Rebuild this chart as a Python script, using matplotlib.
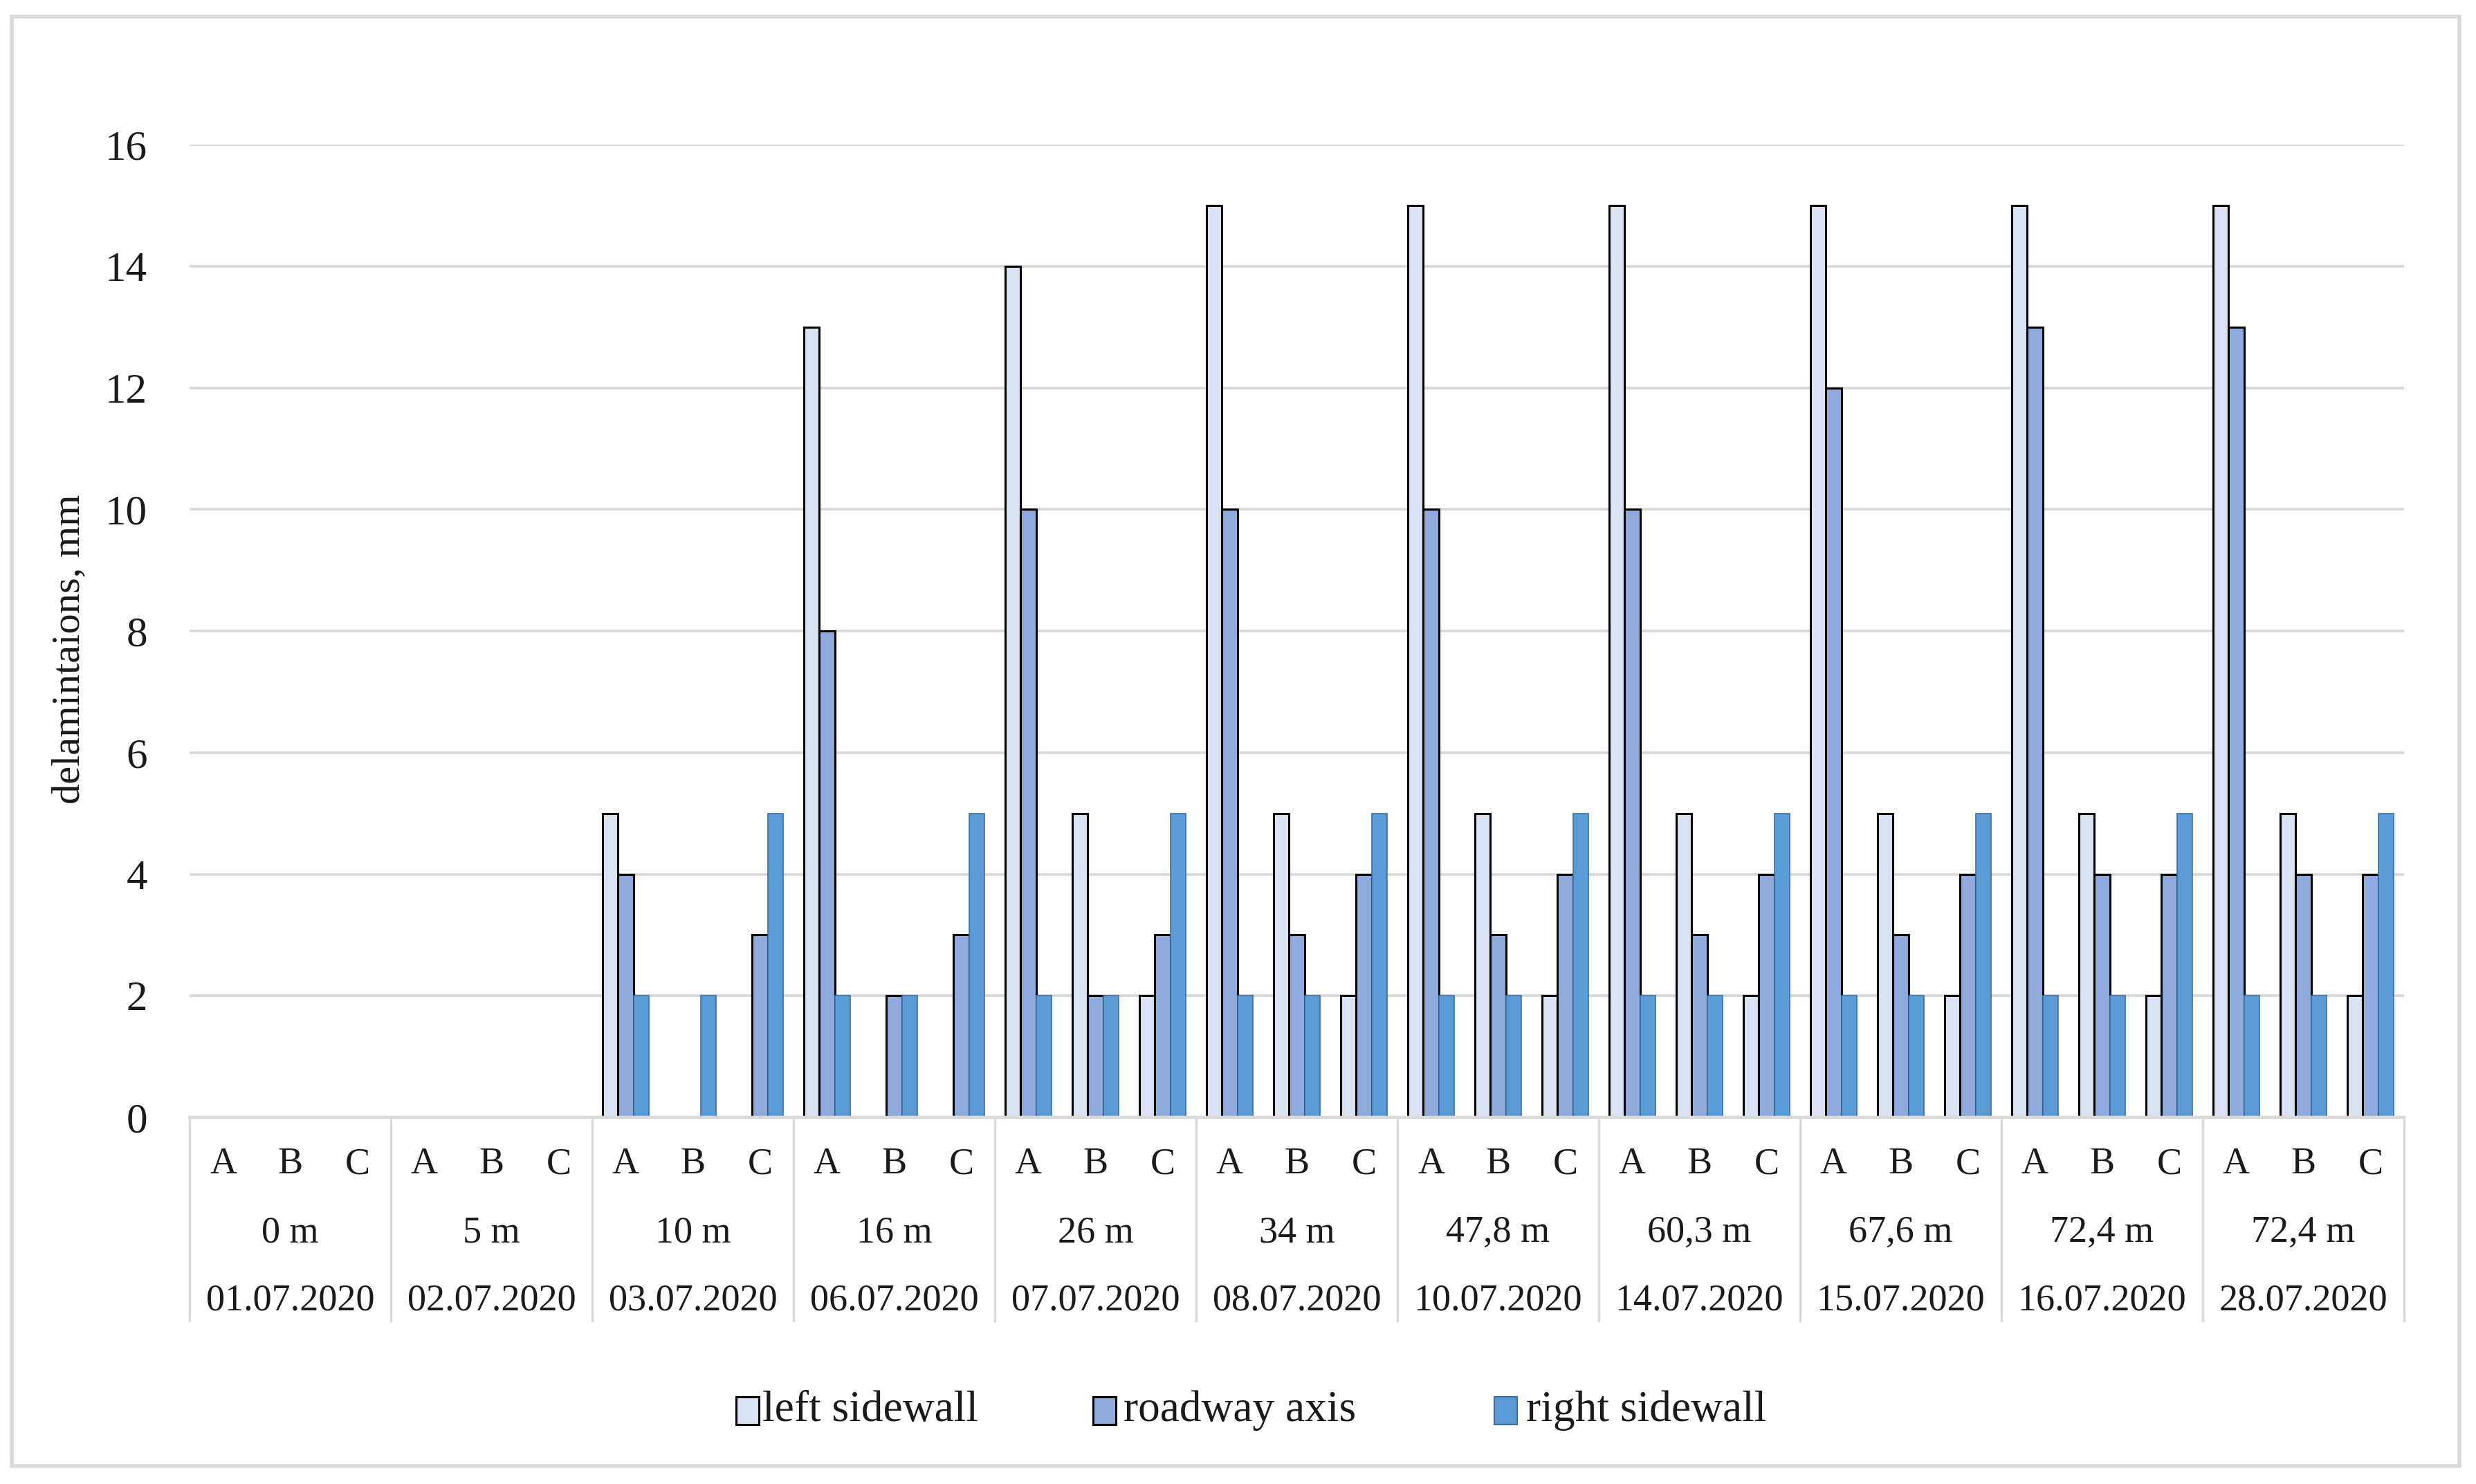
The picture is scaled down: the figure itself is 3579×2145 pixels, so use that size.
import matplotlib
matplotlib.use("Agg")
import matplotlib.pyplot as plt
from matplotlib.patches import Rectangle
import numpy as np

# ---- data ----
dates = ['01.07.2020', '02.07.2020', '03.07.2020', '06.07.2020', '07.07.2020', '08.07.2020',
         '10.07.2020', '14.07.2020', '15.07.2020', '16.07.2020', '28.07.2020']
distances = ['0 m', '5 m', '10 m', '16 m', '26 m', '34 m', '47,8 m', '60,3 m', '67,6 m', '72,4 m', '72,4 m']
points = ['A', 'B', 'C']
series_names = ['left sidewall', 'roadway axis', 'right sidewall']

left_sidewall = [0, 0, 0,  0, 0, 0,  5, 0, 0,  13, 0, 0,  14, 5, 2,  15, 5, 2,
                 15, 5, 2,  15, 5, 2,  15, 5, 2,  15, 5, 2,  15, 5, 2]
roadway_axis = [0, 0, 0,  0, 0, 0,  4, 0, 3,  8, 2, 3,  10, 2, 3,  10, 3, 4,
                10, 3, 4,  10, 3, 4,  12, 3, 4,  13, 4, 4,  13, 4, 4]
right_sidewall = [0, 0, 0,  0, 0, 0,  2, 2, 5,  2, 2, 5,  2, 2, 5,  2, 2, 5,
                  2, 2, 5,  2, 2, 5,  2, 2, 5,  2, 2, 5,  2, 2, 5]
y_ticks = [0, 2, 4, 6, 8, 10, 12, 14, 16]

# ---- style ----
plt.rcParams['font.family'] = ['Liberation Serif', 'DejaVu Serif']
colors = ['#DAE3F3', '#8FAADC', '#5B9BD5']
edgecolors = ['#000000', '#000000', '#3E6FA6']
edgewidths = [1.1, 1.1, 0.6]
grid_c = '#D9D9D9'
txt_c = '#1a1a1a'

W, H, DPI = 3580, 2145, 200
fig = plt.figure(figsize=(W / DPI, H / DPI), dpi=DPI)
fig.patch.set_facecolor('white')

ax_l, ax_r, ax_t, ax_b = 274, 3475, 209, 1615
ax = fig.add_axes([ax_l / W, 1 - ax_b / H, (ax_r - ax_l) / W, (ax_b - ax_t) / H])

n_groups = len(dates)
n_sub = len(points)
n_cat = n_groups * n_sub
x = np.arange(n_cat) + 0.5
bw = 0.227
series = [left_sidewall, roadway_axis, right_sidewall]
for i, vals in enumerate(series):
    vals = np.asarray(vals, dtype=float)
    lws = [edgewidths[i] if v > 0 else 0 for v in vals]
    ax.bar(x + (i - 1) * bw, vals, width=bw, color=colors[i],
           edgecolor=edgecolors[i], linewidth=lws, zorder=3)

ax.set_xlim(0, n_cat)
ax.set_ylim(0, 16)
ax.set_yticks(y_ticks)
ax.set_yticklabels([str(t) for t in y_ticks], fontsize=22, color=txt_c)
ax.tick_params(axis='y', length=0, pad=22)
ax.set_xticks([])
for s in ['top', 'right', 'left']:
    ax.spines[s].set_visible(False)
ax.spines['bottom'].set_color(grid_c)
ax.spines['bottom'].set_linewidth(1.6)
ax.spines['bottom'].set_zorder(4)
ax.yaxis.grid(True, color=grid_c, linewidth=1.4, zorder=0)
ax.set_axisbelow(True)

# multi-level category labels
axh = ax_b - ax_t
def yf(px):
    return (ax_b - px) / axh

trans = ax.get_xaxis_transform()
for k in range(n_cat):
    ax.text(x[k], yf(1683), points[k % n_sub], transform=trans, ha='center', va='center',
            fontsize=19.5, color=txt_c)
for g in range(n_groups):
    cx = g * n_sub + n_sub / 2
    ax.text(cx, yf(1782), distances[g], transform=trans, ha='center', va='center',
            fontsize=19.5, color=txt_c)
    ax.text(cx, yf(1880), dates[g], transform=trans, ha='center', va='center',
            fontsize=19.5, color=txt_c)
for g in range(n_groups + 1):
    ax.plot([g * n_sub, g * n_sub], [0, yf(1909)], transform=trans, color=grid_c,
            linewidth=1.2, clip_on=False, zorder=1)

# y label
fig.text(100 / W, 1 - 938 / H, 'delamintaions, mm', rotation=90, ha='center', va='center',
         fontsize=21, color=txt_c)

# legend (manual placement, Excel style)
leg_patch_x = [1064, 1580, 2160]
leg_text_x = [1102, 1624, 2206]
leg_y0, leg_y1 = 2019, 2059
for i in range(3):
    fig.add_artist(Rectangle((leg_patch_x[i] / W, 1 - leg_y1 / H), 33 / W, (leg_y1 - leg_y0) / H,
                             transform=fig.transFigure, facecolor=colors[i],
                             edgecolor=edgecolors[i], linewidth=1.1 if i < 2 else 0.8))
    fig.text(leg_text_x[i] / W, 1 - 2039 / H, series_names[i], ha='left', va='center',
             fontsize=22.8, color=txt_c)

# outer frame
fig.add_artist(Rectangle((17 / W, 1 - 2119 / H), (3555 - 17) / W, (2119 - 24) / H,
                         transform=fig.transFigure, fill=False, edgecolor=grid_c, linewidth=2.0))

fig.savefig('out.png', dpi=DPI, facecolor='white')
